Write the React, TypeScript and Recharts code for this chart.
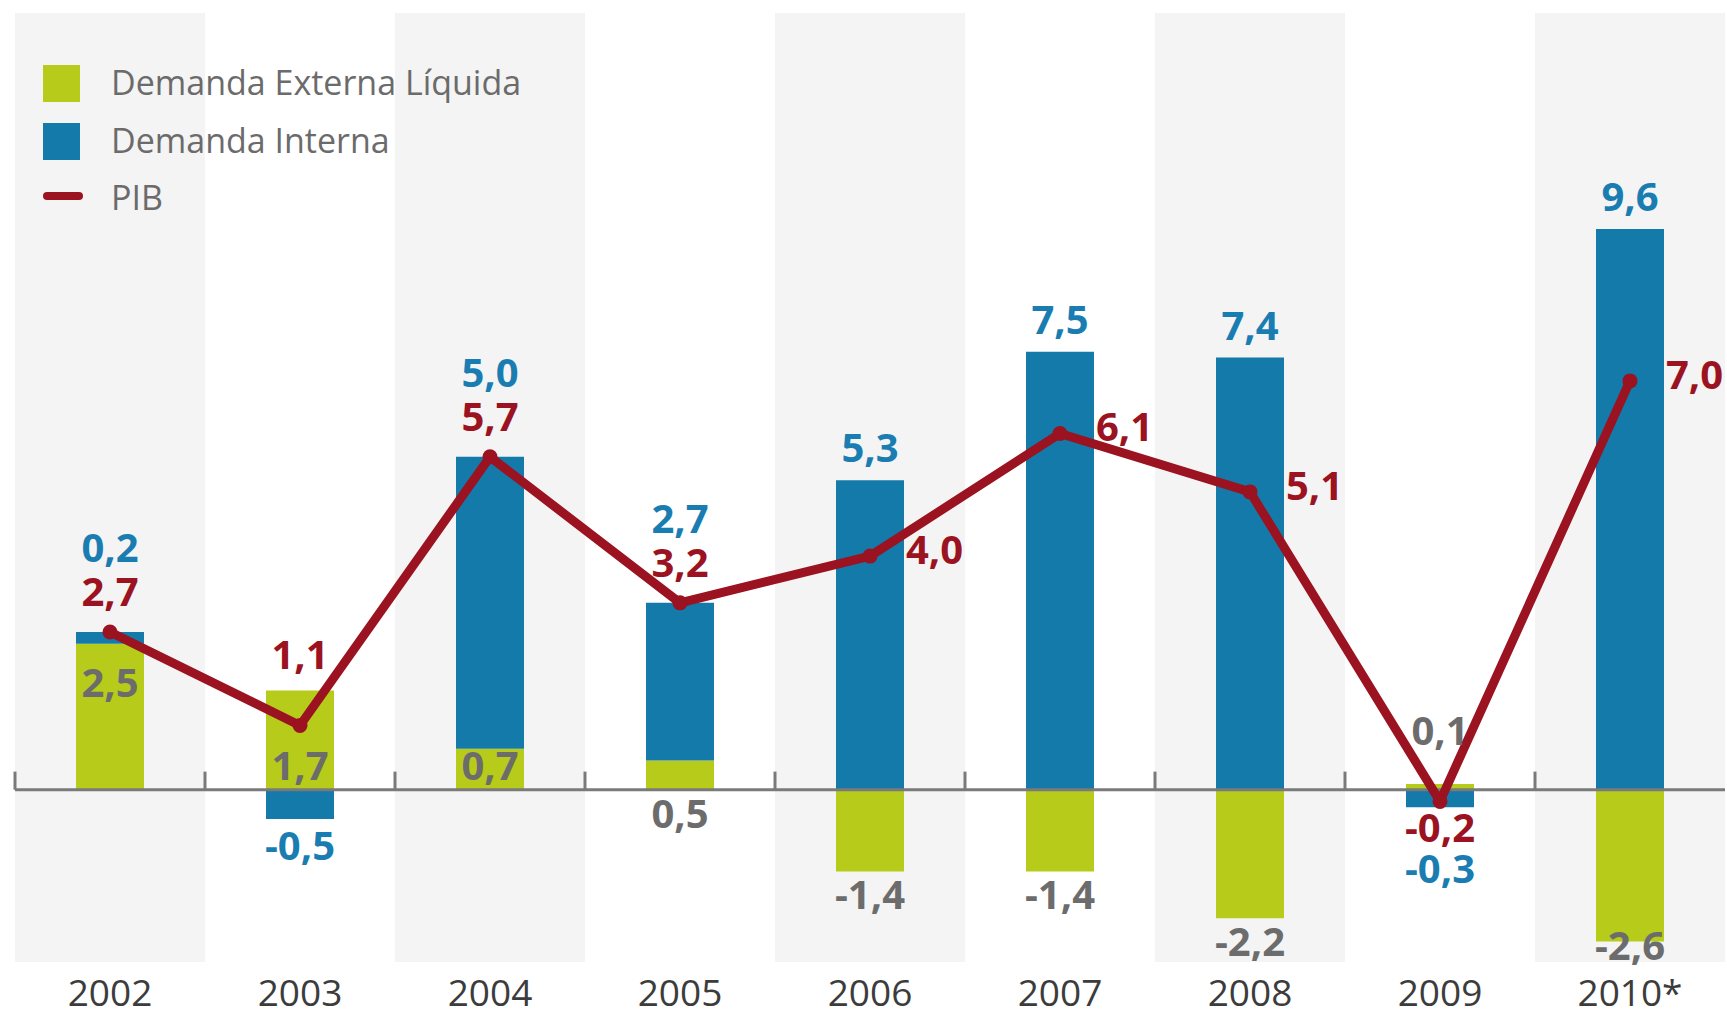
import React from 'react';
import {
  ComposedChart,
  Bar,
  Line,
  XAxis,
  YAxis,
  ReferenceArea,
  ReferenceLine,
  LabelList,
  Legend,
} from 'recharts';

// ---------- data ----------
const years = ['2002', '2003', '2004', '2005', '2006', '2007', '2008', '2009', '2010*'];
const demandaExterna = [2.5, 1.7, 0.7, 0.5, -1.4, -1.4, -2.2, 0.1, -2.6];
const demandaInterna = [0.2, -0.5, 5.0, 2.7, 5.3, 7.5, 7.4, -0.3, 9.6];
const pib = [2.7, 1.1, 5.7, 3.2, 4.0, 6.1, 5.1, -0.2, 7.0];
const shadedYears = ['2002', '2004', '2006', '2008', '2010*'];
const seriesNames = ['Demanda Externa Líquida', 'Demanda Interna', 'PIB'];

// label placement hints (semantic, not coordinates)
const pibLabelPlacement = ['above', 'aboveBar', 'above', 'above', 'right', 'right', 'right', 'below', 'right'];
const externaLabelPlacement = ['insideTop', 'insideBottom', 'insideBottom', 'below', 'below', 'below', 'below', 'above', 'end'];

const data = years.map((year, i) => ({
  year,
  externa: demandaExterna[i],
  interna: demandaInterna[i],
  pib: pib[i],
}));

// ---------- style ----------
const FONT = "'Open Sans', 'Noto Sans', sans-serif";
const GREEN = '#b7cb1a';
const BLUE = '#147aaa';
const RED = '#9b1221';
const GRAY_LABEL = '#6c6c6c';
const BLUE_LABEL = '#1a7db2';
const AXIS = '#7a7a7a';
const BAND = '#f4f4f4';
const YEAR_COLOR = '#3c3c3c';
const LEGEND_TEXT = '#6b6b6b';
const LABEL_SIZE = 40;
const BASE_SHIFT = 14; // half digit height for centring

const fmt = (v: number) => v.toFixed(1).replace('.', ',');

function rectOf(props: any) {
  const vb = props.viewBox ?? props;
  const x = Number(vb.x ?? props.x ?? 0);
  const y = Number(vb.y ?? props.y ?? 0);
  const w = Number(vb.width ?? props.width ?? 0);
  const h = Number(vb.height ?? props.height ?? 0);
  return { cx: x + w / 2, top: Math.min(y, y + h), bottom: Math.max(y, y + h) };
}

function ValueText({ x, cy, color, text, anchor = 'middle' }: any) {
  return (
    <text
      x={x}
      y={cy + BASE_SHIFT}
      textAnchor={anchor}
      fill={color}
      fontSize={LABEL_SIZE}
      fontWeight={700}
      fontFamily={FONT}
    >
      {text}
    </text>
  );
}

function ExternaLabel(props: any) {
  const i = props.index;
  if (i == null) return null;
  const { cx, top, bottom } = rectOf(props);
  const p = externaLabelPlacement[i];
  let cy = top;
  if (p === 'insideTop') cy = top + 39;
  else if (p === 'insideBottom') cy = bottom - 24;
  else if (p === 'below') cy = bottom + 24;
  else if (p === 'above') cy = top - 53;
  else if (p === 'end') cy = bottom + 4;
  return <ValueText x={cx} cy={cy} color={GRAY_LABEL} text={fmt(demandaExterna[i])} />;
}

function InternaLabel(props: any) {
  const i = props.index;
  if (i == null) return null;
  const { cx, top, bottom } = rectOf(props);
  const v = demandaInterna[i];
  const p = pibLabelPlacement[i];
  let cy;
  if (v >= 0) cy = p === 'above' || p === 'aboveBar' ? top - 84 : top - 32;
  else cy = p === 'below' ? bottom + 62 : bottom + 27;
  return <ValueText x={cx} cy={cy} color={BLUE_LABEL} text={fmt(v)} />;
}

function PibLabel(props: any) {
  const i = props.index;
  if (i == null) return null;
  const { cx, top } = rectOf(props);
  const p = pibLabelPlacement[i];
  const text = fmt(pib[i]);
  if (p === 'right') return <ValueText x={cx + 36} cy={top - 6} color={RED} text={text} anchor="start" />;
  let cy = top - 40;
  if (p === 'aboveBar') cy = top - 70;
  else if (p === 'below') cy = top + 27;
  return <ValueText x={cx} cy={cy} color={RED} text={text} />;
}

function LegendBox() {
  const colors = [GREEN, BLUE, RED];
  const baselines = [95, 153, 210];
  return (
    <svg width={560} height={230} style={{ display: 'block' }}>
      <rect x={43} y={65} width={37} height={37} fill={colors[0]} />
      <rect x={43} y={123} width={37} height={37} fill={colors[1]} />
      <line x1={47} y1={196} x2={79} y2={196} stroke={colors[2]} strokeWidth={8} strokeLinecap="round" />
      {seriesNames.map((n, i) => (
        <text key={n} x={111} y={baselines[i]} fill={LEGEND_TEXT} fontSize={34} fontFamily={FONT}>
          {n}
        </text>
      ))}
    </svg>
  );
}

export default function App() {
  return (
    <div style={{ position: 'absolute', left: 0, top: 0, width: 1727, height: 1016, background: '#fff' }}>
      <ComposedChart
        width={1727}
        height={1016}
        data={data}
        stackOffset="sign"
        margin={{ top: 13, right: 2, bottom: 0, left: 15 }}
      >
        <XAxis
          dataKey="year"
          height={54}
          axisLine={false}
          tickLine={false}
          interval={0}
          tickMargin={12}
          tick={{ fill: YEAR_COLOR, fontSize: 37, fontFamily: FONT }}
        />
        <YAxis hide type="number" domain={[-2.95, 13.3]} allowDataOverflow />
        {shadedYears.map((y) => (
          <ReferenceArea key={'band' + y} x1={y} x2={y} fill={BAND} fillOpacity={1} stroke="none" ifOverflow="visible" />
        ))}
        <ReferenceLine y={0} stroke={AXIS} strokeWidth={3} />
        {years.map((y) => (
          <ReferenceLine
            key={'tick' + y}
            segment={[{ x: y, y: 0 }, { x: y, y: 0.31 }]}
            position="start"
            stroke={AXIS}
            strokeWidth={3}
            ifOverflow="visible"
          />
        ))}
        <Bar dataKey="externa" stackId="a" fill={GREEN} barSize={68} isAnimationActive={false}>
          <LabelList dataKey="externa" content={ExternaLabel} />
        </Bar>
        <Bar dataKey="interna" stackId="a" fill={BLUE} barSize={68} isAnimationActive={false}>
          <LabelList dataKey="interna" content={InternaLabel} />
        </Bar>
        <Line
          type="linear"
          dataKey="pib"
          stroke={RED}
          strokeWidth={9}
          strokeLinejoin="round"
          dot={{ r: 7.5, fill: RED, stroke: RED, strokeWidth: 0 }}
          activeDot={false}
          isAnimationActive={false}
        >
          <LabelList dataKey="pib" content={PibLabel} />
        </Line>
        <Legend
          layout="vertical"
          align="center"
          verticalAlign="middle"
          wrapperStyle={{ top: 0, left: 0, width: 560, height: 230 }}
          content={() => <LegendBox />}
        />
      </ComposedChart>
    </div>
  );
}
